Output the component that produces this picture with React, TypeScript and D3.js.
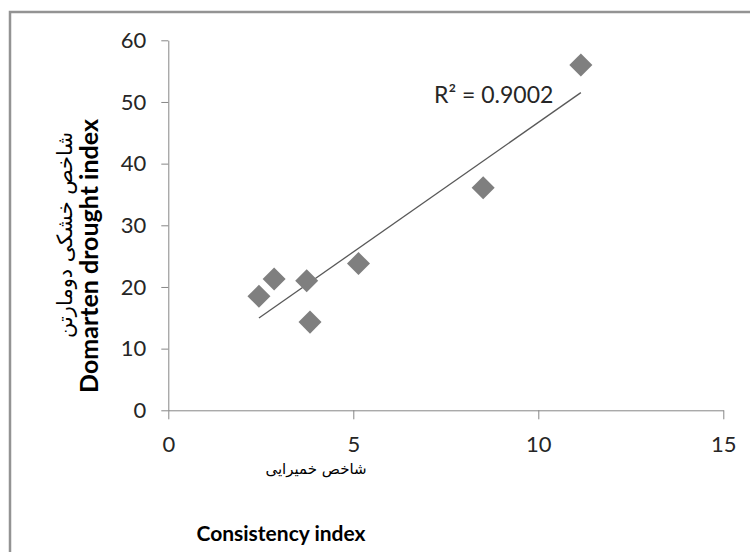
import React, { useEffect, useRef } from 'react';
import * as d3 from 'd3';

// values
const consistency = [2.45, 2.86, 3.74, 3.83, 5.14, 8.51, 11.15];
const domarten = [18.5, 21.3, 21.0, 14.3, 23.8, 36.1, 56.0];
const xTicks = [0, 5, 10, 15];
const yTicks = [0, 10, 20, 30, 40, 50, 60];
const rSquaredLabel = 'R² = 0.9002';
const xTitleFa = 'شاخص خمیرایی';
const xTitleEn = 'Consistency index';
const yTitleFa = 'شاخص خشکی دومارتن';
const yTitleEn = 'Domarten drought index';

const W = 750;
const H = 552;
const font = 'Lato, "Open Sans", sans-serif';
const faFont = '"DejaVu Sans", sans-serif';

function ScatterChart() {
  const ref = useRef<SVGSVGElement>(null);

  useEffect(() => {
    const svg = d3.select(ref.current);
    svg.selectAll('*').remove();

    // outer frame (runs off the right and bottom of the picture)
    svg.append('rect')
      .attr('x', 10).attr('y', 12)
      .attr('width', 800).attr('height', 600)
      .attr('fill', '#fff')
      .attr('stroke', '#939393')
      .attr('stroke-width', 2.5);

    const x = d3.scaleLinear().domain([0, 15]).range([168.3, 723.3]);
    const y = d3.scaleLinear().domain([0, 60]).range([410.3, 40.3]);

    // y axis
    const gy = svg.append('g')
      .attr('transform', 'translate(168.3,0)')
      .call(d3.axisLeft(y).tickValues(yTicks).tickSize(7).tickSizeOuter(0).tickPadding(15));
    // x axis
    const gx = svg.append('g')
      .attr('transform', 'translate(0,410.3)')
      .call(d3.axisBottom(x).tickValues(xTicks).tickSize(9).tickSizeOuter(0).tickPadding(17));

    [gx, gy].forEach(g => {
      g.select('.domain').attr('stroke', '#868686').attr('stroke-width', 1);
      g.selectAll('.tick line').attr('stroke', '#868686');
      g.selectAll('.tick text')
        .attr('fill', '#262626')
        .style('font-family', font)
        .style('font-size', '22px');
    });

    // linear trend line
    const mx = d3.mean(consistency) as number;
    const my = d3.mean(domarten) as number;
    const sxy = d3.sum(consistency, (v, i) => (v - mx) * (domarten[i] - my));
    const sxx = d3.sum(consistency, v => (v - mx) * (v - mx));
    const slope = sxy / sxx;
    const intercept = my - slope * mx;
    const [x0, x1] = d3.extent(consistency) as [number, number];
    const line = d3.line<number>().x(d => x(d)).y(d => y(intercept + slope * d));
    svg.append('path')
      .attr('d', line([x0, x1]))
      .attr('fill', 'none')
      .attr('stroke', '#595959')
      .attr('stroke-width', 1.3);

    // diamond markers
    const diamond = d3.symbol().type(d3.symbolSquare).size(265);
    svg.append('g')
      .selectAll('path')
      .data(consistency)
      .enter()
      .append('path')
      .attr('d', diamond)
      .attr('transform', (d, i) => `translate(${x(d)},${y(domarten[i])}) rotate(45)`)
      .attr('fill', '#7f7f7f');

    svg.append('text')
      .attr('x', 434).attr('y', 103)
      .attr('fill', '#262626')
      .style('font-family', font)
      .style('font-size', '23px')
      .text(rSquaredLabel);

    // axis titles
    svg.append('text')
      .attr('x', 316).attr('y', 474)
      .attr('text-anchor', 'middle')
      .attr('fill', '#000')
      .style('font-family', faFont)
      .style('font-size', '15px')
      .text(xTitleFa);
    svg.append('text')
      .attr('x', 281).attr('y', 541)
      .attr('text-anchor', 'middle')
      .attr('fill', '#000')
      .style('font-family', font)
      .style('font-weight', 'bold')
      .style('font-size', '21px')
      .text(xTitleEn);

    svg.append('text')
      .attr('transform', 'translate(72,235) rotate(-90)')
      .attr('text-anchor', 'middle')
      .attr('fill', '#000')
      .style('font-family', faFont)
      .style('font-size', '21px')
      .text(yTitleFa);
    svg.append('text')
      .attr('transform', 'translate(98,256) rotate(-90)')
      .attr('text-anchor', 'middle')
      .attr('fill', '#000')
      .style('font-family', font)
      .style('font-weight', 'bold')
      .style('font-size', '25px')
      .text(yTitleEn);
  }, []);

  return <svg ref={ref} width={W} height={H} style={svgStyle}></svg>;
}

const svgStyle: React.CSSProperties = {
  position: 'absolute',
  left: 0,
  top: 0,
  display: 'block',
  background: '#fff',
};

export default function App() {
  return <ScatterChart />;
}
